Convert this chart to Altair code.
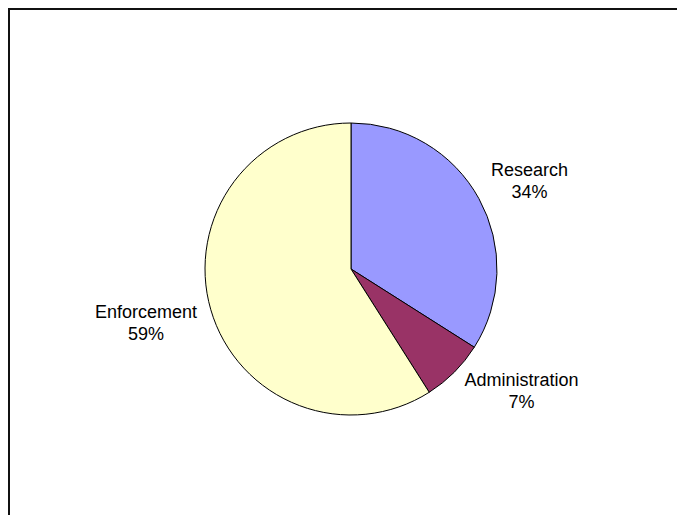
import altair as alt
import pandas as pd

categories = ["Research", "Administration", "Enforcement"]
shares = [34, 7, 59]
colors = ["#9999FF", "#993366", "#FFFFCC"]
order_idx = [0, 1, 2]

df = pd.DataFrame({"category": categories, "share": shares, "order": order_idx})

W, H = 669, 507
CX, CY = 343, 261
R = 146
LR = 160      # radius of the label anchor point
VP = 10       # vertical push away from the centre
FS = 18
LH = 22
FONT = "Liberation Sans"


def cnt(chars):
    return f"length(replace(datum.category, regexp('[^{chars}]', 'g'), ''))"


# rough text width (Arial metrics, in em)
width_em = (
    f"0.556*length(datum.category) + 0.14*{cnt('A-Z')} + 0.277*{cnt('m')}"
    f" - 0.334*{cnt('ilj')} - 0.278*{cnt('tf')} - 0.223*{cnt('r')} - 0.056*{cnt('sck')}"
)

base = (
    alt.Chart(df)
    .transform_joinaggregate(total="sum(share)")
    .transform_window(cum="sum(share)", sort=[alt.SortField("order")], frame=[None, 0])
    .transform_calculate(
        mid="(datum.cum - datum.share / 2) / datum.total",
        label="datum.category + '\\n' + datum.share + '%'",
    )
)

pie = base.mark_arc(outerRadius=R, stroke="black", strokeWidth=1).encode(
    theta=alt.Theta("share:Q", stack=True),
    color=alt.Color(
        "category:N", scale=alt.Scale(domain=categories, range=colors), legend=None
    ),
    order=alt.Order("order:Q", sort="ascending"),
    x=alt.value(CX),
    y=alt.value(CY),
)

labels = (
    base.transform_calculate(
        ang="2 * PI * datum.mid",
        w=f"({width_em}) * {FS}",
    )
    .transform_calculate(
        lx=f"{CX} + {LR} * sin(datum.ang) + (sin(datum.ang) >= 0 ? 1 : -1) * datum.w / 2",
        ly=f"{CY} - {LR} * cos(datum.ang) + (cos(datum.ang) > 0 ? -{VP} : {VP}) - {LH / 2}",
    )
    .mark_text(
        align="center",
        baseline="middle",
        font=FONT,
        fontSize=FS,
        lineHeight=LH,
        lineBreak="\n",
        color="black",
    )
    .encode(
        x=alt.X("lx:Q", scale=None),
        y=alt.Y("ly:Q", scale=None),
        text="label:N",
    )
)

frame_df = pd.DataFrame({"a": [0]})
top_line = alt.Chart(frame_df).mark_rule(color="#111", strokeWidth=2).encode(
    x=alt.value(0), x2=alt.value(W), y=alt.value(1)
)
left_line = alt.Chart(frame_df).mark_rule(color="#111", strokeWidth=2).encode(
    x=alt.value(1), y=alt.value(0), y2=alt.value(H)
)

chart = (
    alt.layer(pie, labels, top_line, left_line)
    .properties(width=W, height=H, autosize=alt.AutoSizeParams(type="none"), padding=0)
    .configure_view(stroke=None)
)

chart.save("out.html", embed_options={"renderer": "svg", "actions": False})
